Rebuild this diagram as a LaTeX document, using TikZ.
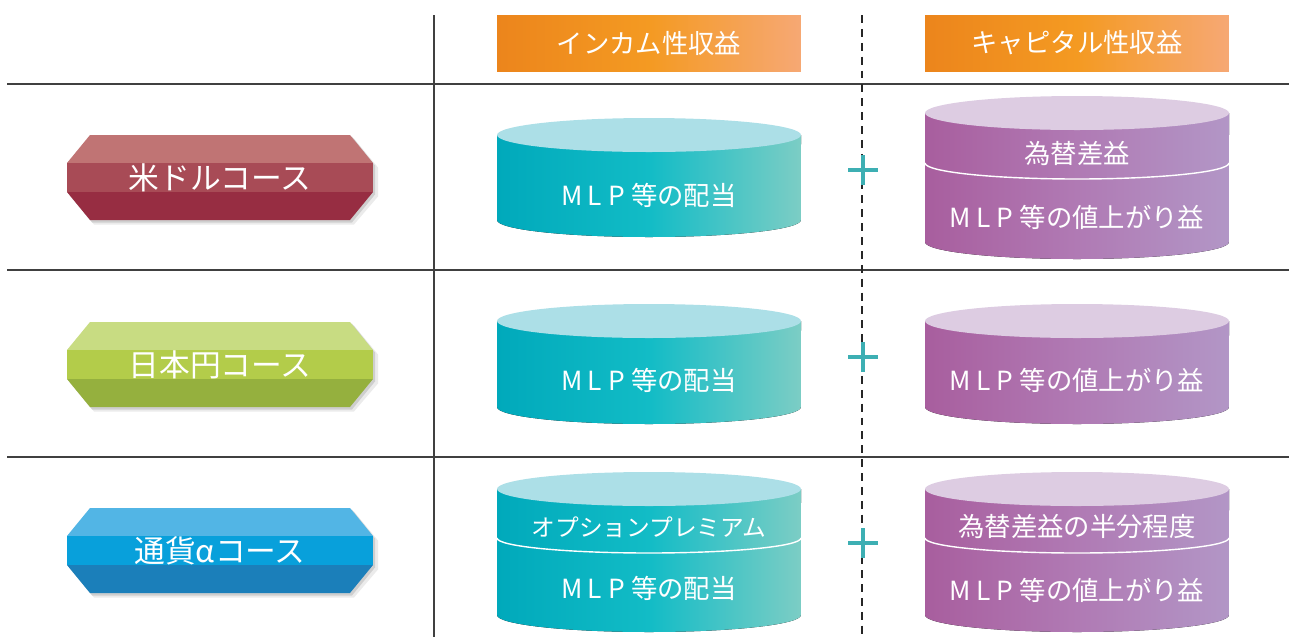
\documentclass[tikz,border=0pt]{standalone}
\usepackage{fontspec}
\setmainfont{Noto Sans CJK JP}
\usepackage{tikz}
\usetikzlibrary{positioning, calc}

\definecolor{usdA}{HTML}{C07474}
\definecolor{usdB}{HTML}{A84B56}
\definecolor{usdC}{HTML}{972D42}
\definecolor{jpyA}{HTML}{C8DC82}
\definecolor{jpyB}{HTML}{B3CC4A}
\definecolor{jpyC}{HTML}{95B03E}
\definecolor{alpA}{HTML}{52B5E5}
\definecolor{alpB}{HTML}{08A0DB}
\definecolor{alpC}{HTML}{1B7FBA}
\definecolor{tealL}{HTML}{00A9BB}
\definecolor{tealM}{HTML}{12BCC6}
\definecolor{tealR}{HTML}{7CCDC5}
\definecolor{tealT}{HTML}{ACDFE7}
\definecolor{purL}{HTML}{A85E9E}
\definecolor{purM}{HTML}{B07AB4}
\definecolor{purR}{HTML}{B296C6}
\definecolor{purT}{HTML}{DDCCE2}
\definecolor{hdrL}{HTML}{EC851C}
\definecolor{hdrM}{HTML}{F49A22}
\definecolor{hdrR}{HTML}{F6A874}
\definecolor{plusC}{HTML}{3DAFB3}
\definecolor{rule}{HTML}{404040}

\newcommand{\mlp}{M\kern3pt L\kern3.5pt P\kern3.5pt}

% badge: centre y, top, middle and bottom colour
\newcommand{\badge}[4]{%
  \fill[black, opacity=0.08] (94,#1-39) -- (354,#1-39) -- (378,#1-10) -- (378,#1+19) -- (354,#1+47) -- (94,#1+47) -- (71,#1+19) -- (71,#1-10) -- cycle;
  \fill[black, opacity=0.12] (92,#1-41) -- (352,#1-41) -- (375,#1-12) -- (375,#1+17) -- (352,#1+45) -- (92,#1+45) -- (69,#1+17) -- (69,#1-12) -- cycle;
  \fill[#2] (90,#1-42.5) -- (350,#1-42.5) -- (373,#1-14.5) -- (67,#1-14.5) -- cycle;
  \fill[#3] (67,#1-14.6) rectangle (373,#1+14.6);
  \fill[#4] (67,#1+14.5) -- (373,#1+14.5) -- (350,#1+42.5) -- (90,#1+42.5) -- cycle;
}

% drum: centre x, top y, bottom y, side shading, top colour
\newcommand{\drum}[5]{%
  \fill[#4] (#1-152,#2) -- (#1-152,#3) arc[start angle=180, end angle=360, x radius=3.04cm, y radius=0.34cm] -- (#1+152,#2) -- cycle;
  \fill[#5] (#1,#2) ellipse[x radius=3.04cm, y radius=0.34cm];
}

\begin{document}
\begin{tikzpicture}[
    x=0.02cm, y=-0.02cm,
    gridline/.style={rule, line width=1.1pt},
    sepline/.style={black!85, line width=1.5pt, dash pattern=on 4.5pt off 3.4pt},
    plussign/.style={plusC, line width=2.8pt},
    divider/.style={white, line width=0.8pt},
    hdr/.style={minimum width=6.08cm, minimum height=1.12cm, inner sep=0pt, left color=hdrL, right color=hdrR, middle color=hdrM, text=white, font=\fontsize{15}{18}\selectfont},
    badgetxt/.style={inner sep=0pt, text=white, font=\fontsize{17.5}{20}\selectfont},
    drumtxt/.style={inner sep=0pt, text=white, font=\fontsize{15}{18}\selectfont},
    teal/.style={left color=tealL, right color=tealR, middle color=tealM},
    purple/.style={left color=purL, right color=purR, middle color=purM}
]
\useasboundingbox (0,0) rectangle (1289,637);

% table rules
\draw[gridline] (7,84) -- (1289,84);
\draw[gridline] (7,270) -- (1289,270);
\draw[gridline] (7,457) -- (1289,457);
\draw[gridline] (434,15) -- (434,637);
\draw[sepline] (862,15) -- (862,637);

% headers
\node[hdr] (incHdr) at (649,43)  {インカム性収益};
\node[hdr] (capHdr) at (1077,43) {キャピタル性収益};

% courses
\badge{177.5}{usdA}{usdB}{usdC}
\badge{364.5}{jpyA}{jpyB}{jpyC}
\badge{550.5}{alpA}{alpB}{alpC}
\node[badgetxt] (usd)   at (220,178) {米ドルコース};
\node[badgetxt] (jpy)   at (220,365) {日本円コース};
\node[badgetxt] (alpha) at (220,551) {通貨αコース};

% income drums
\drum{649}{135}{220}{teal}{tealT}
\drum{649}{321}{407}{teal}{tealT}
\drum{649}{489}{615}{teal}{tealT}
\draw[divider] (497,538) arc[start angle=180, end angle=360, x radius=3.04cm, y radius=0.3cm];
\node[drumtxt] (incUsd)  at (649,195) {\mlp 等の配当};
\node[drumtxt] (incJpy)  at (649,380) {\mlp 等の配当};
\node[drumtxt, font=\fontsize{13.5}{16}\selectfont] (optPrem) at (649,527) {オプションプレミアム};
\node[drumtxt] (incAlp)  at (649,588) {\mlp 等の配当};

% capital drums
\drum{1077}{113}{242}{purple}{purT}
\drum{1077}{321}{407}{purple}{purT}
\drum{1077}{489}{615}{purple}{purT}
\draw[divider] (925,163) arc[start angle=180, end angle=360, x radius=3.04cm, y radius=0.32cm];
\draw[divider] (925,538) arc[start angle=180, end angle=360, x radius=3.04cm, y radius=0.3cm];
\node[drumtxt] (fxUsd)  at (1077,153) {為替差益};
\node[drumtxt] (capUsd) at (1077,217) {\mlp 等の値上がり益};
\node[drumtxt] (capJpy) at (1077,380) {\mlp 等の値上がり益};
\node[drumtxt] (fxAlp)  at (1077,527) {為替差益の半分程度};
\node[drumtxt] (capAlp) at (1077,590) {\mlp 等の値上がり益};

% plus signs
\foreach \y in {170,357,543}
  \draw[plussign] (848,\y) -- (878,\y) (863,\y-15) -- (863,\y+15);
\end{tikzpicture}
\end{document}
